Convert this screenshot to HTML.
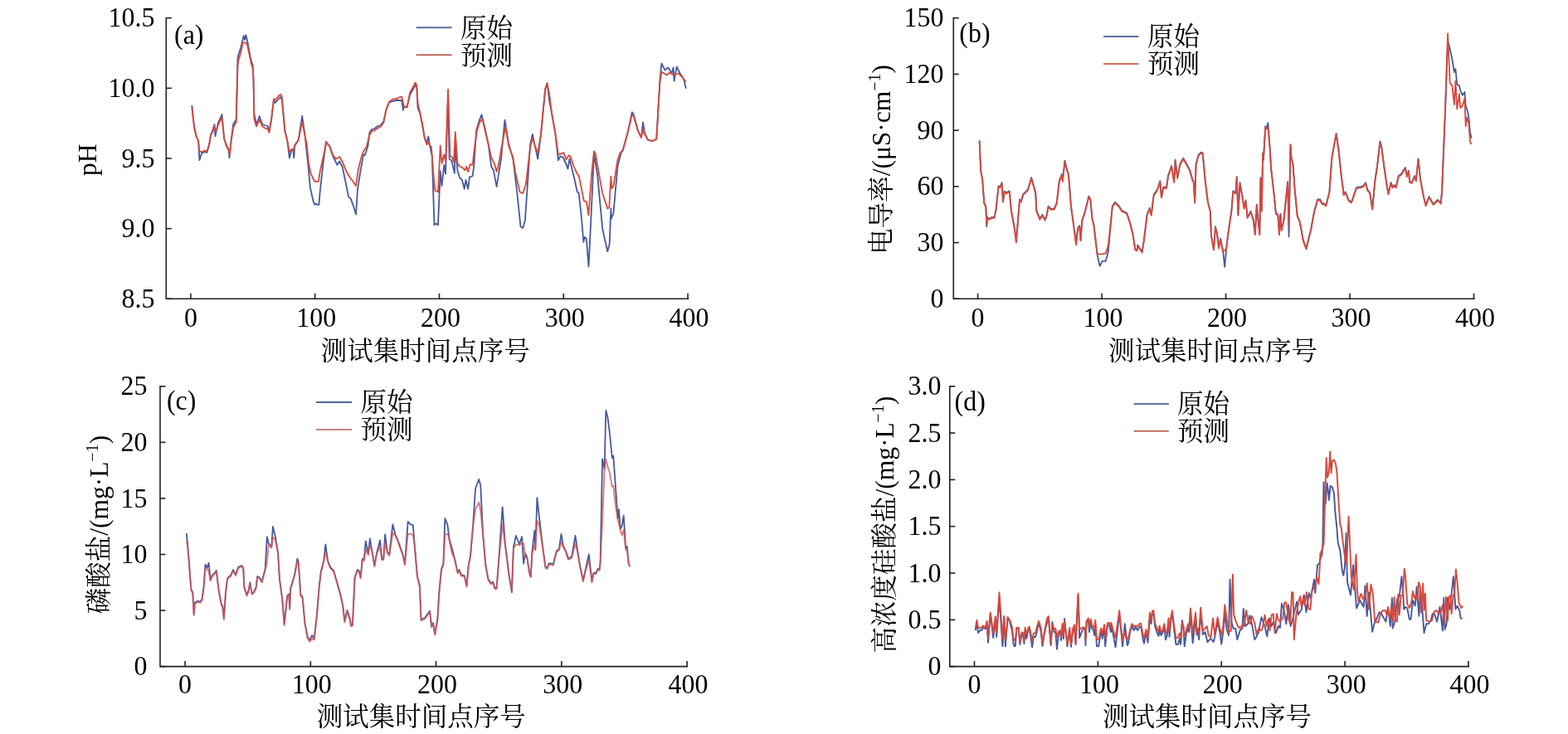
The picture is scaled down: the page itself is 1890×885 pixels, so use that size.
<!DOCTYPE html>
<html><head><meta charset="utf-8"><title>figure</title>
<style>html,body{margin:0;padding:0;background:#fff;}body{width:1890px;height:885px;overflow:hidden;}svg{display:block;}</style>
</head><body>
<svg width="1890" height="885" viewBox="0 0 1890 885">
<rect width="1890" height="885" fill="#fff"/>
<path d="M200.3,21.7 L200.3,360.3 L829.5,360.3" fill="none" stroke="#231f20" stroke-width="1.6" stroke-linecap="square"/>
<line x1="200.3" y1="21.70" x2="206.8" y2="21.70" stroke="#231f20" stroke-width="1.6"/>
<line x1="200.3" y1="106.35" x2="206.8" y2="106.35" stroke="#231f20" stroke-width="1.6"/>
<line x1="200.3" y1="191.00" x2="206.8" y2="191.00" stroke="#231f20" stroke-width="1.6"/>
<line x1="200.3" y1="275.65" x2="206.8" y2="275.65" stroke="#231f20" stroke-width="1.6"/>
<line x1="200.3" y1="360.30" x2="206.8" y2="360.30" stroke="#231f20" stroke-width="1.6"/>
<line x1="229.90" y1="360.3" x2="229.90" y2="353.8" stroke="#231f20" stroke-width="1.6"/>
<line x1="379.70" y1="360.3" x2="379.70" y2="353.8" stroke="#231f20" stroke-width="1.6"/>
<line x1="529.50" y1="360.3" x2="529.50" y2="353.8" stroke="#231f20" stroke-width="1.6"/>
<line x1="679.30" y1="360.3" x2="679.30" y2="353.8" stroke="#231f20" stroke-width="1.6"/>
<line x1="829.10" y1="360.3" x2="829.10" y2="353.8" stroke="#231f20" stroke-width="1.6"/>
<text transform="translate(186.5,32.30) scale(1,1.06)" text-anchor="end" font-family="'Liberation Serif', serif" font-size="32" fill="#000">10.5</text>
<text transform="translate(186.5,116.95) scale(1,1.06)" text-anchor="end" font-family="'Liberation Serif', serif" font-size="32" fill="#000">10.0</text>
<text transform="translate(186.5,201.60) scale(1,1.06)" text-anchor="end" font-family="'Liberation Serif', serif" font-size="32" fill="#000">9.5</text>
<text transform="translate(186.5,286.25) scale(1,1.06)" text-anchor="end" font-family="'Liberation Serif', serif" font-size="32" fill="#000">9.0</text>
<text transform="translate(186.5,370.90) scale(1,1.06)" text-anchor="end" font-family="'Liberation Serif', serif" font-size="32" fill="#000">8.5</text>
<text transform="translate(229.90,393.5) scale(1,1.06)" text-anchor="middle" font-family="'Liberation Serif', serif" font-size="32" fill="#000">0</text>
<text transform="translate(381.20,393.5) scale(1,1.06)" text-anchor="middle" font-family="'Liberation Serif', serif" font-size="32" fill="#000">100</text>
<text transform="translate(531.00,393.5) scale(1,1.06)" text-anchor="middle" font-family="'Liberation Serif', serif" font-size="32" fill="#000">200</text>
<text transform="translate(680.80,393.5) scale(1,1.06)" text-anchor="middle" font-family="'Liberation Serif', serif" font-size="32" fill="#000">300</text>
<text transform="translate(830.60,393.5) scale(1,1.06)" text-anchor="middle" font-family="'Liberation Serif', serif" font-size="32" fill="#000">400</text>
<path d="M1149.3,21.7 L1149.3,360.3 L1776.8,360.3" fill="none" stroke="#231f20" stroke-width="1.6" stroke-linecap="square"/>
<line x1="1149.3" y1="21.70" x2="1155.8" y2="21.70" stroke="#231f20" stroke-width="1.6"/>
<line x1="1149.3" y1="89.42" x2="1155.8" y2="89.42" stroke="#231f20" stroke-width="1.6"/>
<line x1="1149.3" y1="157.14" x2="1155.8" y2="157.14" stroke="#231f20" stroke-width="1.6"/>
<line x1="1149.3" y1="224.86" x2="1155.8" y2="224.86" stroke="#231f20" stroke-width="1.6"/>
<line x1="1149.3" y1="292.58" x2="1155.8" y2="292.58" stroke="#231f20" stroke-width="1.6"/>
<line x1="1149.3" y1="360.30" x2="1155.8" y2="360.30" stroke="#231f20" stroke-width="1.6"/>
<line x1="1178.60" y1="360.3" x2="1178.60" y2="353.8" stroke="#231f20" stroke-width="1.6"/>
<line x1="1328.07" y1="360.3" x2="1328.07" y2="353.8" stroke="#231f20" stroke-width="1.6"/>
<line x1="1477.55" y1="360.3" x2="1477.55" y2="353.8" stroke="#231f20" stroke-width="1.6"/>
<line x1="1627.03" y1="360.3" x2="1627.03" y2="353.8" stroke="#231f20" stroke-width="1.6"/>
<line x1="1776.50" y1="360.3" x2="1776.50" y2="353.8" stroke="#231f20" stroke-width="1.6"/>
<text transform="translate(1137.5,32.30) scale(1,1.06)" text-anchor="end" font-family="'Liberation Serif', serif" font-size="32" fill="#000">150</text>
<text transform="translate(1137.5,100.02) scale(1,1.06)" text-anchor="end" font-family="'Liberation Serif', serif" font-size="32" fill="#000">120</text>
<text transform="translate(1137.5,167.74) scale(1,1.06)" text-anchor="end" font-family="'Liberation Serif', serif" font-size="32" fill="#000">90</text>
<text transform="translate(1137.5,235.46) scale(1,1.06)" text-anchor="end" font-family="'Liberation Serif', serif" font-size="32" fill="#000">60</text>
<text transform="translate(1137.5,303.18) scale(1,1.06)" text-anchor="end" font-family="'Liberation Serif', serif" font-size="32" fill="#000">30</text>
<text transform="translate(1137.5,370.90) scale(1,1.06)" text-anchor="end" font-family="'Liberation Serif', serif" font-size="32" fill="#000">0</text>
<text transform="translate(1178.60,393.5) scale(1,1.06)" text-anchor="middle" font-family="'Liberation Serif', serif" font-size="32" fill="#000">0</text>
<text transform="translate(1329.57,393.5) scale(1,1.06)" text-anchor="middle" font-family="'Liberation Serif', serif" font-size="32" fill="#000">100</text>
<text transform="translate(1479.05,393.5) scale(1,1.06)" text-anchor="middle" font-family="'Liberation Serif', serif" font-size="32" fill="#000">200</text>
<text transform="translate(1628.53,393.5) scale(1,1.06)" text-anchor="middle" font-family="'Liberation Serif', serif" font-size="32" fill="#000">300</text>
<text transform="translate(1778.00,393.5) scale(1,1.06)" text-anchor="middle" font-family="'Liberation Serif', serif" font-size="32" fill="#000">400</text>
<path d="M193.0,465.8 L193.0,803.6 L828.4,803.6" fill="none" stroke="#231f20" stroke-width="1.6" stroke-linecap="square"/>
<line x1="193.0" y1="465.80" x2="199.5" y2="465.80" stroke="#231f20" stroke-width="1.6"/>
<line x1="193.0" y1="533.36" x2="199.5" y2="533.36" stroke="#231f20" stroke-width="1.6"/>
<line x1="193.0" y1="600.92" x2="199.5" y2="600.92" stroke="#231f20" stroke-width="1.6"/>
<line x1="193.0" y1="668.48" x2="199.5" y2="668.48" stroke="#231f20" stroke-width="1.6"/>
<line x1="193.0" y1="736.04" x2="199.5" y2="736.04" stroke="#231f20" stroke-width="1.6"/>
<line x1="193.0" y1="803.60" x2="199.5" y2="803.60" stroke="#231f20" stroke-width="1.6"/>
<line x1="223.10" y1="803.6" x2="223.10" y2="797.1" stroke="#231f20" stroke-width="1.6"/>
<line x1="374.35" y1="803.6" x2="374.35" y2="797.1" stroke="#231f20" stroke-width="1.6"/>
<line x1="525.60" y1="803.6" x2="525.60" y2="797.1" stroke="#231f20" stroke-width="1.6"/>
<line x1="676.85" y1="803.6" x2="676.85" y2="797.1" stroke="#231f20" stroke-width="1.6"/>
<line x1="828.10" y1="803.6" x2="828.10" y2="797.1" stroke="#231f20" stroke-width="1.6"/>
<text transform="translate(177.5,476.40) scale(1,1.06)" text-anchor="end" font-family="'Liberation Serif', serif" font-size="32" fill="#000">25</text>
<text transform="translate(177.5,543.96) scale(1,1.06)" text-anchor="end" font-family="'Liberation Serif', serif" font-size="32" fill="#000">20</text>
<text transform="translate(177.5,611.52) scale(1,1.06)" text-anchor="end" font-family="'Liberation Serif', serif" font-size="32" fill="#000">15</text>
<text transform="translate(177.5,679.08) scale(1,1.06)" text-anchor="end" font-family="'Liberation Serif', serif" font-size="32" fill="#000">10</text>
<text transform="translate(177.5,746.64) scale(1,1.06)" text-anchor="end" font-family="'Liberation Serif', serif" font-size="32" fill="#000">5</text>
<text transform="translate(177.5,814.20) scale(1,1.06)" text-anchor="end" font-family="'Liberation Serif', serif" font-size="32" fill="#000">0</text>
<text transform="translate(223.10,836.3) scale(1,1.06)" text-anchor="middle" font-family="'Liberation Serif', serif" font-size="32" fill="#000">0</text>
<text transform="translate(375.85,836.3) scale(1,1.06)" text-anchor="middle" font-family="'Liberation Serif', serif" font-size="32" fill="#000">100</text>
<text transform="translate(527.10,836.3) scale(1,1.06)" text-anchor="middle" font-family="'Liberation Serif', serif" font-size="32" fill="#000">200</text>
<text transform="translate(678.35,836.3) scale(1,1.06)" text-anchor="middle" font-family="'Liberation Serif', serif" font-size="32" fill="#000">300</text>
<text transform="translate(829.60,836.3) scale(1,1.06)" text-anchor="middle" font-family="'Liberation Serif', serif" font-size="32" fill="#000">400</text>
<path d="M1144.8,465.8 L1144.8,803.6 L1770.3,803.6" fill="none" stroke="#231f20" stroke-width="1.6" stroke-linecap="square"/>
<line x1="1144.8" y1="465.80" x2="1151.3" y2="465.80" stroke="#231f20" stroke-width="1.6"/>
<line x1="1144.8" y1="522.10" x2="1151.3" y2="522.10" stroke="#231f20" stroke-width="1.6"/>
<line x1="1144.8" y1="578.40" x2="1151.3" y2="578.40" stroke="#231f20" stroke-width="1.6"/>
<line x1="1144.8" y1="634.70" x2="1151.3" y2="634.70" stroke="#231f20" stroke-width="1.6"/>
<line x1="1144.8" y1="691.00" x2="1151.3" y2="691.00" stroke="#231f20" stroke-width="1.6"/>
<line x1="1144.8" y1="747.30" x2="1151.3" y2="747.30" stroke="#231f20" stroke-width="1.6"/>
<line x1="1144.8" y1="803.60" x2="1151.3" y2="803.60" stroke="#231f20" stroke-width="1.6"/>
<line x1="1174.50" y1="803.6" x2="1174.50" y2="797.1" stroke="#231f20" stroke-width="1.6"/>
<line x1="1323.38" y1="803.6" x2="1323.38" y2="797.1" stroke="#231f20" stroke-width="1.6"/>
<line x1="1472.25" y1="803.6" x2="1472.25" y2="797.1" stroke="#231f20" stroke-width="1.6"/>
<line x1="1621.12" y1="803.6" x2="1621.12" y2="797.1" stroke="#231f20" stroke-width="1.6"/>
<line x1="1770.00" y1="803.6" x2="1770.00" y2="797.1" stroke="#231f20" stroke-width="1.6"/>
<text transform="translate(1134.5,476.40) scale(1,1.06)" text-anchor="end" font-family="'Liberation Serif', serif" font-size="32" fill="#000">3.0</text>
<text transform="translate(1134.5,532.70) scale(1,1.06)" text-anchor="end" font-family="'Liberation Serif', serif" font-size="32" fill="#000">2.5</text>
<text transform="translate(1134.5,589.00) scale(1,1.06)" text-anchor="end" font-family="'Liberation Serif', serif" font-size="32" fill="#000">2.0</text>
<text transform="translate(1134.5,645.30) scale(1,1.06)" text-anchor="end" font-family="'Liberation Serif', serif" font-size="32" fill="#000">1.5</text>
<text transform="translate(1134.5,701.60) scale(1,1.06)" text-anchor="end" font-family="'Liberation Serif', serif" font-size="32" fill="#000">1.0</text>
<text transform="translate(1134.5,757.90) scale(1,1.06)" text-anchor="end" font-family="'Liberation Serif', serif" font-size="32" fill="#000">0.5</text>
<text transform="translate(1134.5,814.20) scale(1,1.06)" text-anchor="end" font-family="'Liberation Serif', serif" font-size="32" fill="#000">0</text>
<text transform="translate(1174.50,836.3) scale(1,1.06)" text-anchor="middle" font-family="'Liberation Serif', serif" font-size="32" fill="#000">0</text>
<text transform="translate(1324.88,836.3) scale(1,1.06)" text-anchor="middle" font-family="'Liberation Serif', serif" font-size="32" fill="#000">100</text>
<text transform="translate(1473.75,836.3) scale(1,1.06)" text-anchor="middle" font-family="'Liberation Serif', serif" font-size="32" fill="#000">200</text>
<text transform="translate(1622.62,836.3) scale(1,1.06)" text-anchor="middle" font-family="'Liberation Serif', serif" font-size="32" fill="#000">300</text>
<text transform="translate(1771.50,836.3) scale(1,1.06)" text-anchor="middle" font-family="'Liberation Serif', serif" font-size="32" fill="#000">400</text>
<polyline points="231.3,127.0 234.0,152.5 236.8,165.2 239.1,169.7 240.4,193.2 243.1,185.0 246.7,183.0 249.4,184.0 252.1,175.0 253.9,163.4 256.6,156.0 258.5,150.0 259.4,164.3 263.0,148.0 267.5,138.0 270.2,167.0 272.9,176.0 275.6,181.0 276.5,190.5 278.3,172.4 281.1,150.0 284.7,144.0 286.5,70.0 287.4,66.0 290.1,58.0 293.7,43.1 295.0,48.0 296.4,42.2 298.2,50.0 300.9,64.0 302.8,74.0 303.7,75.7 304.6,78.0 305.5,94.7 306.4,138.0 309.1,150.0 312.7,140.0 316.3,150.0 319.0,151.0 322.6,152.0 324.5,158.0 327.2,143.5 329.9,121.0 331.7,124.0 335.3,120.0 338.0,117.0 339.8,120.0 343.4,158.0 346.2,168.8 348.9,190.5 351.6,180.0 353.4,182.0 354.3,190.5 355.2,176.0 359.7,168.8 364.2,139.9 367.9,165.2 368.5,171.8 372.1,206.2 373.9,226.1 377.5,242.3 379.4,246.9 381.2,245.6 383.0,246.9 384.4,246.9 385.7,231.5 389.3,198.9 392.9,170.9 397.4,176.3 401.1,188.1 406.5,198.9 409.2,194.4 412.8,201.6 416.4,218.8 420.0,236.9 422.8,239.6 426.4,249.6 429.1,258.6 430.9,229.7 434.5,206.2 438.1,186.3 439.9,187.2 443.6,175.4 445.4,160.0 448.1,156.0 451.7,155.0 455.3,152.0 458.9,151.0 462.5,146.0 465.3,132.9 468.9,124.0 473.4,122.0 477.9,121.0 480.6,121.0 484.2,121.0 486.0,132.9 487.0,128.4 490.6,129.3 494.2,114.0 497.8,108.0 500.5,103.0 502.3,105.0 503.6,130.2 506.3,137.0 509.0,150.0 511.8,166.4 514.5,172.0 516.3,164.6 518.1,175.4 520.8,188.1 523.5,271.3 525.3,269.5 528.0,271.3 530.7,206.2 532.5,224.2 535.3,198.9 537.1,209.8 540.1,115.0 541.6,191.7 544.3,193.5 547.9,208.9 548.8,175.0 551.5,206.2 554.2,214.3 557.0,217.0 559.7,227.9 561.5,217.0 564.2,227.9 566.0,213.4 569.6,212.5 571.4,198.9 574.1,157.3 577.8,145.0 580.5,138.3 585.0,157.0 588.6,173.6 592.2,200.7 594.9,205.3 598.6,225.2 604.0,191.7 608.5,144.7 613.0,173.0 618.4,191.7 623.0,229.7 627.5,273.1 630.2,274.9 632.9,265.8 639.2,173.6 641.9,161.9 644.7,175.4 648.3,191.7 651.9,162.8 657.3,106.7 659.5,100.0 662.1,121.0 665.2,137.3 669.2,159.7 672.9,193.4 675.3,188.3 678.4,189.3 682.5,198.0 684.5,203.6 686.5,191.4 692.6,216.8 695.7,231.0 697.7,233.0 700.8,261.5 703.4,292.0 704.8,285.9 706.9,288.0 709.5,321.5 712.0,271.7 716.0,185.3 720.1,210.7 726.2,275.8 732.3,303.2 734.7,294.1 736.4,251.4 736.8,263.6 739.4,257.5 744.5,200.5 748.6,184.2 750.6,182.0 756.7,159.7 761.8,135.3 763.8,138.0 768.9,157.6 773.0,165.8 775.0,147.5 777.0,160.0 781.1,168.8 786.2,169.8 789.2,168.8 791.3,167.8 795.3,98.0 797.4,76.3 801.4,84.4 805.5,81.4 809.6,88.5 811.6,81.4 812.6,97.6 815.7,80.3 819.7,88.5 823.8,94.6 826.9,106.8" fill="none" stroke="#45599c" stroke-width="1.8" stroke-linejoin="round"/>
<polyline points="231.3,129.9 234.0,152.5 236.8,165.2 239.1,169.7 240.4,182.4 243.1,183.3 246.7,181.5 249.4,182.4 252.1,174.2 253.9,163.4 256.6,158.0 258.5,152.5 260.3,158.0 263.0,150.7 267.5,141.7 270.2,167.0 272.9,175.1 275.6,179.7 276.9,186.9 278.3,172.4 281.1,154.3 284.7,147.1 286.5,80.2 287.4,73.0 290.1,63.9 292.8,51.3 296.4,51.3 298.2,54.9 300.9,67.5 302.8,76.6 304.6,82.0 305.5,94.7 306.4,143.5 309.1,152.5 312.7,144.4 316.3,152.5 319.0,154.3 322.6,155.3 324.5,159.8 327.2,143.5 329.9,119.1 331.7,120.9 335.3,116.4 338.0,113.7 339.8,116.4 343.4,158.0 346.2,168.8 348.9,183.3 351.6,179.7 353.4,181.5 355.2,175.1 359.7,168.8 364.2,147.1 367.9,165.2 369.7,173.3 372.1,197.1 374.8,209.8 379.4,218.8 383.9,218.8 385.7,207.1 393.5,171.8 397.4,176.3 401.1,186.3 404.7,191.7 409.2,189.0 412.8,195.3 417.3,206.2 421.9,214.3 425.5,218.8 429.1,224.2 431.8,204.4 435.4,189.9 438.1,182.6 441.7,177.2 445.4,162.8 448.1,158.2 451.7,157.3 455.3,154.6 458.9,152.8 462.5,147.4 465.3,132.9 468.9,123.0 473.4,119.4 477.9,119.4 480.6,117.5 484.2,116.6 487.0,128.4 490.6,129.3 494.2,111.2 497.8,104.9 500.5,99.5 502.3,103.1 503.6,124.8 506.3,135.6 509.0,149.2 511.8,166.4 514.5,174.5 516.3,171.8 518.1,175.4 519.9,177.2 522.6,211.6 524.4,229.7 528.0,231.5 530.7,175.4 532.5,197.1 535.3,186.3 537.1,195.3 540.1,107.6 542.5,188.1 545.2,189.9 547.0,195.3 548.8,159.1 551.5,197.1 554.2,200.7 557.9,202.5 560.6,205.3 562.4,200.7 564.2,207.1 566.9,198.0 569.6,198.9 572.3,175.4 575.0,157.3 577.8,148.3 581.4,142.9 585.0,159.1 588.6,173.6 592.2,189.9 595.8,197.1 598.6,207.1 601.3,197.1 604.9,175.4 609.4,152.8 613.0,175.4 618.4,189.9 621.2,208.0 626.6,231.5 630.2,233.3 633.8,222.4 639.2,177.2 641.9,166.4 644.7,175.4 648.3,184.5 651.9,162.8 657.3,106.7 659.5,100.7 662.1,112.9 665.2,137.3 669.2,159.7 672.9,186.3 676.4,185.3 679.4,184.2 682.5,192.4 685.5,187.3 687.5,188.3 691.6,200.5 695.7,209.7 697.7,211.7 700.8,226.9 703.8,242.2 706.9,243.2 709.5,259.5 713.0,210.7 716.0,182.2 718.0,186.3 721.1,204.6 726.2,233.0 732.3,251.4 734.3,250.3 736.4,212.7 737.4,226.9 739.4,224.9 744.5,192.4 747.5,184.2 750.6,181.2 756.7,159.7 761.8,138.3 763.8,140.3 768.9,157.6 773.0,165.8 775.0,155.6 777.0,161.7 781.1,168.8 786.2,169.8 789.2,168.8 791.3,167.8 795.3,100.7 797.4,86.4 803.5,90.5 807.5,87.5 811.6,90.5 817.7,88.5 821.8,92.5 826.9,98.6" fill="none" stroke="#d8483a" stroke-width="1.8" stroke-linejoin="round"/>
<polyline points="1180.6,169.3 1182.2,205.9 1184.2,216.1 1186.3,244.6 1188.3,248.7 1189.3,273.1 1190.3,261.9 1192.4,263.9 1195.4,261.9 1198.5,261.9 1200.5,252.7 1203.6,224.2 1205.6,225.3 1207.6,220.2 1209.0,242.6 1210.7,230.4 1212.7,232.4 1214.7,231.4 1216.8,230.4 1218.8,252.7 1222.9,275.1 1224.9,291.4 1229.0,240.5 1231.0,242.6 1233.0,234.4 1235.1,232.4 1237.1,230.4 1239.1,228.3 1243.2,214.1 1248.3,232.4 1249.3,253.7 1253.4,263.9 1256.4,258.8 1259.5,264.9 1261.5,259.8 1263.6,248.7 1266.6,251.7 1270.7,251.7 1273.7,244.6 1276.8,218.1 1279.8,210.0 1280.8,218.1 1283.5,193.7 1285.9,203.9 1288.0,210.0 1291.0,248.7 1294.1,271.0 1297.1,294.4 1299.1,275.1 1301.2,272.0 1302.6,289.3 1304.2,265.9 1307.3,256.8 1312.4,236.5 1314.4,240.5 1316.4,262.9 1318.5,271.0 1322.5,306.6 1325.6,320.9 1328.6,314.8 1332.7,314.8 1335.8,303.6 1340.8,248.7 1343.9,243.6 1349.1,248.7 1352.1,253.7 1358.2,256.8 1362.3,269.0 1365.3,281.2 1368.4,300.5 1370.4,301.5 1371.4,295.4 1374.5,300.5 1376.5,303.6 1378.6,291.4 1382.6,258.8 1385.7,250.7 1387.7,258.8 1390.8,234.4 1393.8,230.4 1395.8,226.3 1398.3,218.1 1399.9,237.5 1402.4,225.3 1406.0,226.3 1408.0,212.0 1412.1,199.8 1415.2,219.2 1416.6,192.7 1419.2,214.1 1422.3,197.8 1426.3,190.7 1430.4,197.8 1434.5,205.9 1437.5,217.1 1438.6,218.1 1440.2,243.6 1441.6,197.8 1444.7,186.6 1447.7,183.6 1449.7,184.6 1452.8,218.1 1455.8,242.6 1458.9,254.8 1459.9,283.2 1463.0,300.5 1465.0,273.1 1467.0,281.2 1469.1,298.5 1471.1,287.3 1474.1,302.5 1476.2,321.9 1478.2,299.5 1480.2,282.2 1484.3,254.8 1486.3,230.4 1489.4,232.4 1490.8,213.1 1492.4,258.8 1494.5,220.2 1497.5,236.5 1499.6,250.7 1501.6,241.5 1503.6,261.9 1507.7,254.8 1510.8,264.9 1512.8,282.2 1514.8,246.6 1516.9,269.0 1518.3,282.2 1519.5,214.1 1520.9,253.7 1522.1,184.5 1522.9,192.4 1525.3,152.1 1526.9,154.4 1528.4,148.1 1530.8,179.8 1532.2,203.9 1535.3,230.4 1537.9,256.8 1540.3,258.8 1542.0,282.2 1543.4,257.8 1544.8,277.1 1547.5,264.9 1549.5,244.6 1552.1,219.2 1553.6,285.3 1555.5,174.2 1556.5,189.3 1558.6,198.8 1560.7,228.3 1563.7,259.8 1566.8,267.0 1570.8,289.3 1574.5,299.5 1576.9,289.3 1580.0,277.1 1584.1,254.8 1588.1,240.5 1591.2,240.5 1593.2,244.6 1596.3,245.6 1598.3,247.6 1602.4,231.4 1605.4,189.7 1610.6,161.0 1613.6,181.5 1616.6,210.0 1619.7,234.4 1621.7,231.4 1625.8,241.5 1628.8,243.6 1630.8,238.5 1634.9,226.3 1638.0,225.3 1640.0,225.3 1643.0,224.2 1646.1,220.2 1648.1,228.3 1651.2,232.4 1654.2,251.7 1657.3,218.1 1660.3,197.8 1663.4,170.4 1665.4,177.5 1668.5,201.9 1671.5,222.2 1673.5,233.4 1676.6,220.2 1678.6,225.3 1680.7,223.2 1682.7,225.3 1685.8,212.0 1688.8,210.0 1691.9,204.9 1693.9,201.9 1695.9,212.0 1698.0,205.9 1699.1,218.7 1701.7,220.0 1705.1,212.2 1706.9,217.4 1709.5,191.4 1712.1,216.1 1716.0,236.9 1718.6,247.3 1722.5,236.9 1727.7,246.0 1732.9,240.8 1736.8,244.7 1738.1,229.1 1742.0,133.0 1745.1,49.8 1747.7,59.0 1750.3,71.0 1752.9,87.0 1754.4,83.0 1756.3,101.8 1758.9,103.1 1760.2,109.0 1762.8,114.8 1765.4,111.0 1766.7,127.8 1768.0,131.0 1769.3,135.5 1770.6,144.0 1771.9,159.0 1773.7,166.7" fill="none" stroke="#45599c" stroke-width="1.8" stroke-linejoin="round"/>
<polyline points="1180.6,170.3 1182.2,206.9 1184.2,217.1 1186.3,245.6 1188.3,249.7 1189.3,270.0 1190.3,262.9 1192.4,264.9 1195.4,262.9 1198.5,262.9 1200.5,253.7 1203.6,225.2 1205.6,226.3 1207.6,221.2 1209.0,243.6 1210.7,231.4 1212.7,233.4 1214.7,232.4 1216.8,231.4 1218.8,253.7 1222.9,276.1 1224.9,292.4 1229.0,241.5 1231.0,243.6 1233.0,235.4 1235.1,233.4 1237.1,231.4 1239.1,229.3 1243.2,215.1 1248.3,233.4 1249.3,254.7 1253.4,264.9 1256.4,259.8 1259.5,265.9 1261.5,260.8 1263.6,249.7 1266.6,252.7 1270.7,252.7 1273.7,245.6 1276.8,219.1 1279.8,211.0 1280.8,219.1 1283.5,194.7 1285.9,204.9 1288.0,211.0 1291.0,249.7 1294.1,272.0 1297.1,295.4 1299.1,276.1 1301.2,273.0 1302.6,290.3 1304.2,266.9 1307.3,257.8 1312.4,237.5 1314.4,241.5 1316.4,263.9 1318.5,272.0 1322.5,305.6 1325.6,306.6 1332.7,305.6 1335.8,296.4 1340.8,249.7 1343.9,244.6 1349.1,249.7 1352.1,254.7 1358.2,257.8 1362.3,270.0 1365.3,282.2 1368.4,301.5 1370.4,302.5 1371.4,296.4 1374.5,301.5 1376.5,304.6 1378.6,292.4 1382.6,259.8 1385.7,251.7 1387.7,259.8 1390.8,235.4 1393.8,231.4 1395.8,227.3 1398.3,219.1 1399.9,238.5 1402.4,226.3 1406.0,227.3 1408.0,213.0 1412.1,200.8 1415.2,220.2 1416.6,193.7 1419.2,215.1 1422.3,198.8 1426.3,191.7 1430.4,198.8 1434.5,206.9 1437.5,218.1 1438.6,219.1 1440.2,244.6 1441.6,198.8 1444.7,187.6 1447.7,184.6 1449.7,185.6 1452.8,219.1 1455.8,243.6 1458.9,255.8 1459.9,284.2 1463.0,301.5 1465.0,274.1 1467.0,282.2 1469.1,299.5 1471.1,288.3 1474.1,303.5 1476.2,301.5 1478.2,300.5 1480.2,283.2 1484.3,255.8 1486.3,231.4 1489.4,233.4 1490.8,214.1 1492.4,259.8 1494.5,221.2 1497.5,237.5 1499.6,251.7 1501.6,242.5 1503.6,262.9 1507.7,255.8 1510.8,265.9 1512.8,283.2 1514.8,247.6 1516.9,270.0 1518.3,283.2 1519.5,215.1 1520.9,254.7 1522.1,185.5 1522.9,193.4 1525.3,153.1 1526.9,155.4 1528.4,153.9 1530.8,180.8 1532.2,204.9 1535.3,231.4 1537.9,257.8 1540.3,259.8 1542.0,283.2 1543.4,258.8 1544.8,278.1 1547.5,265.9 1549.5,245.6 1552.1,220.2 1553.6,272.0 1555.5,175.2 1556.5,190.3 1558.6,199.8 1560.7,229.3 1563.7,260.8 1566.8,268.0 1570.8,290.3 1574.5,300.5 1576.9,290.3 1580.0,278.1 1584.1,255.8 1588.1,241.5 1591.2,241.5 1593.2,245.6 1596.3,246.6 1598.3,248.6 1602.4,232.4 1605.4,190.7 1610.6,162.0 1613.6,182.5 1616.6,211.0 1619.7,235.4 1621.7,232.4 1625.8,242.5 1628.8,244.6 1630.8,239.5 1634.9,227.3 1638.0,226.3 1640.0,226.3 1643.0,225.2 1646.1,221.2 1648.1,229.3 1651.2,233.4 1654.2,252.7 1657.3,219.1 1660.3,198.8 1663.4,171.4 1665.4,178.5 1668.5,202.9 1671.5,223.2 1673.5,234.4 1676.6,221.2 1678.6,226.3 1680.7,224.2 1682.7,226.3 1685.8,213.0 1688.8,211.0 1691.9,205.9 1693.9,202.9 1695.9,213.0 1698.0,206.9 1699.1,219.7 1701.7,221.0 1705.1,213.2 1706.9,218.4 1709.5,192.4 1712.1,217.1 1716.0,237.9 1718.6,248.3 1722.5,237.9 1727.7,247.0 1732.9,241.8 1736.8,245.7 1738.1,230.1 1742.0,134.0 1745.1,40.4 1747.7,100.2 1750.3,102.8 1752.9,126.2 1754.4,97.6 1756.3,131.4 1758.9,113.2 1760.2,130.0 1762.8,127.5 1765.4,118.4 1766.7,152.1 1768.0,141.7 1770.6,149.5 1771.9,170.3 1773.7,174.2" fill="none" stroke="#d8483a" stroke-width="1.8" stroke-linejoin="round"/>
<polyline points="224.8,643.1 226.2,657.3 228.2,681.7 230.3,710.2 232.3,714.3 233.7,740.7 234.9,726.5 238.4,724.5 241.4,725.5 243.5,722.4 245.5,708.2 247.5,680.7 249.6,684.8 251.6,678.7 253.6,699.0 255.7,693.9 258.7,690.9 260.8,687.8 263.8,712.3 266.9,728.5 268.3,730.6 269.9,745.8 272.0,714.3 274.0,698.0 276.0,695.0 278.0,693.9 281.1,686.8 284.1,692.9 287.2,683.8 291.3,681.7 293.3,684.8 294.3,707.2 297.4,717.3 299.4,712.3 301.4,702.1 303.5,715.3 305.5,714.3 308.6,708.2 310.2,695.0 312.6,696.0 315.7,701.1 319.7,685.8 321.8,647.2 323.8,655.3 325.8,657.3 327.3,659.4 328.9,635.0 331.9,647.2 335.0,665.5 337.0,698.0 340.1,720.4 342.7,752.9 346.2,718.4 348.2,716.3 349.2,733.6 350.2,709.2 353.3,699.0 355.3,691.9 358.4,673.6 359.8,677.7 362.4,717.3 364.5,719.4 367.5,750.9 370.6,767.2 373.2,772.2 376.1,766.1 378.7,770.2 381.8,742.8 384.8,706.2 386.9,688.9 390.3,675.7 392.4,656.3 395.1,675.8 398.1,683.9 402.2,688.0 406.3,702.3 410.3,716.5 413.4,730.7 415.4,749.0 418.5,735.8 421.5,745.0 423.2,754.1 425.0,753.1 427.6,696.2 430.7,687.0 432.7,688.0 434.7,696.2 436.8,673.8 438.8,674.8 440.8,652.4 443.9,667.7 445.9,649.4 448.0,661.6 451.4,681.9 454.1,666.7 458.1,651.4 460.2,673.8 462.2,673.8 464.2,644.3 466.9,665.6 469.3,668.7 473.4,632.1 476.4,644.3 479.5,651.4 485.6,668.7 488.0,679.9 491.7,629.0 494.7,632.1 497.8,633.1 499.8,657.5 502.9,694.1 505.9,706.3 507.6,747.0 512.0,745.0 518.1,736.8 520.2,755.1 522.2,751.1 524.2,764.3 527.3,747.0 529.3,714.5 532.0,686.0 534.4,679.9 536.4,625.0 539.5,633.1 541.5,649.4 544.6,660.6 547.6,671.7 551.7,690.1 553.7,687.0 555.8,693.1 559.8,694.1 562.5,706.3 564.9,679.9 567.0,670.4 570.1,633.8 573.1,589.0 577.2,577.9 579.2,585.0 582.3,646.0 585.3,680.6 588.4,697.8 591.4,702.9 594.5,701.9 596.5,709.0 598.6,709.0 601.6,670.4 605.7,611.4 608.7,654.1 613.8,694.8 616.9,714.1 618.9,660.2 621.9,646.0 626.0,656.2 629.1,647.0 631.1,679.5 633.1,667.3 635.2,671.4 638.2,690.7 639.8,694.8 641.3,666.3 644.3,639.9 645.3,662.3 647.4,600.2 649.4,618.5 653.5,654.1 657.5,683.6 659.6,684.6 661.6,679.5 664.7,679.5 666.7,680.6 670.8,664.3 673.8,662.3 676.5,644.0 678.9,658.2 682.0,664.3 685.0,673.4 689.1,671.4 693.5,646.0 696.2,664.3 699.2,682.6 702.9,699.9 705.3,688.7 709.8,668.4 713.5,700.9 715.5,690.7 718.5,690.7 720.6,685.6 722.6,686.7 723.6,677.6 726.1,553.3 728.6,565.7 730.3,494.9 732.3,502.3 734.8,521.0 737.8,552.0 739.3,549.5 742.3,591.8 744.7,625.4 746.0,614.2 747.7,637.8 749.7,634.1 751.7,621.6 754.2,660.2 755.9,658.9 757.7,680.0 759.2,682.5" fill="none" stroke="#45599c" stroke-width="1.8" stroke-linejoin="round"/>
<polyline points="224.8,652.5 226.2,658.6 228.2,683.0 230.3,711.5 232.3,715.6 233.7,742.0 234.9,727.8 238.4,725.8 241.4,726.8 243.5,723.7 245.5,709.5 247.5,685.1 249.6,686.1 251.6,689.1 253.6,700.3 255.7,695.2 258.7,692.2 260.8,689.1 263.8,713.6 266.9,729.8 268.3,731.9 269.9,747.1 272.0,715.6 274.0,699.3 276.0,696.3 278.0,695.2 281.1,688.1 284.1,694.2 287.2,685.1 291.3,683.0 293.3,686.1 294.3,708.5 297.4,718.6 299.4,713.6 301.4,703.4 303.5,716.6 305.5,715.6 308.6,709.5 310.2,696.3 312.6,697.3 315.7,702.4 319.7,687.1 321.8,679.0 323.8,656.6 325.8,658.6 327.3,660.7 328.9,647.5 331.9,651.5 335.0,666.8 337.0,699.3 340.1,721.7 342.7,754.2 346.2,719.7 348.2,717.6 349.2,734.9 350.2,710.5 353.3,700.3 355.3,693.2 358.4,676.9 359.8,679.0 362.4,718.6 364.5,720.7 367.5,752.2 370.6,769.5 373.2,773.5 376.1,770.5 378.7,771.5 381.8,744.1 384.8,707.5 386.9,690.2 390.3,677.0 392.4,664.9 395.1,677.1 398.1,685.2 402.2,689.3 406.3,703.6 410.3,717.8 413.4,732.0 415.4,750.3 418.5,737.1 421.5,746.3 423.2,755.4 425.0,754.4 427.6,697.5 430.7,688.3 432.7,689.3 434.7,697.5 436.8,675.1 438.8,676.1 440.8,662.9 443.9,669.0 445.9,657.8 448.0,662.9 451.4,683.2 454.1,668.0 458.1,658.8 460.2,675.1 462.2,675.1 464.2,654.7 466.9,666.9 469.3,670.0 473.4,642.5 476.4,645.6 479.5,652.7 485.6,670.0 488.0,681.2 491.7,643.6 494.7,643.6 497.8,645.6 499.8,658.8 502.9,695.4 505.9,707.6 507.6,748.3 512.0,746.3 518.1,738.1 520.2,756.4 522.2,752.4 524.2,765.6 527.3,748.3 529.3,715.8 532.0,687.3 534.4,681.2 536.4,644.6 539.5,643.6 541.5,650.7 544.6,666.9 547.6,673.0 551.7,691.4 553.7,688.3 555.8,694.4 559.8,695.4 562.5,707.6 564.9,681.2 567.0,671.7 570.1,635.1 573.1,613.7 577.2,605.6 579.2,614.7 582.3,647.3 585.3,681.9 588.4,699.1 591.4,704.2 594.5,703.2 596.5,710.3 598.6,710.3 601.6,671.7 605.7,633.0 608.7,655.4 613.8,696.1 616.9,712.4 618.9,661.5 621.9,656.4 626.0,657.5 629.1,654.4 631.1,655.4 633.1,671.7 635.2,672.7 638.2,692.0 639.8,696.1 641.3,667.6 644.3,657.5 645.3,663.6 647.4,628.0 649.4,631.0 653.5,655.4 657.5,684.9 659.6,685.9 661.6,680.8 664.7,680.8 666.7,681.9 670.8,665.6 673.8,663.6 676.5,653.4 678.9,659.5 682.0,665.6 685.0,674.7 689.1,672.7 693.5,655.4 696.2,665.6 699.2,683.9 702.9,701.2 705.3,690.0 709.8,675.8 713.5,702.2 715.5,692.0 718.5,692.0 720.6,686.9 722.6,688.0 723.6,678.9 726.1,629.1 728.6,567.0 730.3,553.3 732.3,562.0 734.8,569.5 737.8,586.9 739.3,585.6 742.3,611.7 744.7,626.7 747.7,639.1 749.7,645.3 751.7,639.1 754.2,662.7 755.9,663.9 757.7,678.9 759.2,683.8" fill="none" stroke="#d9534f" stroke-width="1.8" stroke-linejoin="round" stroke-opacity="0.8"/>
<polyline points="1175.7,760.0 1177.4,752.0 1179.1,763.0 1181.4,760.0 1183.1,760.0 1184.8,757.0 1186.5,757.5 1188.2,758.0 1189.6,752.0 1191.0,774.7 1193.8,740.0 1197.2,769.0 1199.8,748.0 1201.2,768.0 1204.5,722.0 1208.5,779.3 1210.2,743.1 1211.9,779.3 1214.7,744.2 1217.0,749.0 1219.8,760.0 1221.5,776.0 1222.6,779.3 1223.8,779.0 1225.5,757.0 1227.7,758.0 1229.4,777.0 1231.7,764.0 1233.4,768.0 1234.5,776.0 1235.6,760.0 1237.3,770.0 1239.6,758.0 1240.7,757.0 1242.4,768.0 1244.1,780.4 1245.8,768.0 1248.1,768.0 1249.7,762.0 1252.0,750.0 1254.8,762.0 1256.5,779.0 1258.8,764.0 1262.2,750.0 1263.9,746.0 1266.7,778.0 1268.4,750.0 1270.6,762.0 1272.3,762.0 1274.0,782.7 1276.3,762.0 1278.0,762.0 1279.1,772.0 1280.8,752.0 1282.0,770.0 1283.1,746.0 1286.5,779.3 1289.3,760.0 1291.0,780.0 1293.2,760.0 1295.0,757.0 1296.6,777.0 1299.5,718.0 1301.2,769.1 1304.5,760.0 1306.2,758.0 1307.9,760.0 1308.5,778.1 1309.6,750.0 1311.9,748.0 1313.0,762.0 1314.7,750.0 1316.4,758.0 1318.1,760.0 1319.2,766.0 1320.3,752.0 1322.0,779.3 1324.3,779.0 1327.1,760.0 1328.8,770.0 1331.1,756.0 1332.2,779.3 1335.0,753.0 1337.3,755.0 1339.0,762.0 1339.5,755.0 1341.2,762.0 1344.6,780.4 1349.2,740.0 1351.4,762.0 1353.1,779.3 1355.9,752.1 1358.8,778.1 1359.9,776.0 1362.1,762.0 1364.4,755.0 1366.7,760.0 1368.9,756.0 1371.2,760.0 1373.4,756.0 1375.1,755.0 1378.0,772.0 1379.1,775.9 1381.4,762.0 1383.6,774.7 1385.9,745.0 1387.6,752.0 1388.7,740.0 1390.4,740.0 1392.1,755.0 1394.4,762.0 1396.6,766.8 1397.7,758.0 1399.4,766.0 1401.7,762.0 1403.4,756.0 1405.1,771.4 1406.8,766.0 1408.5,750.0 1409.6,768.0 1411.3,748.0 1413.0,740.0 1415.3,760.0 1417.5,777.0 1419.8,777.0 1422.0,770.0 1423.2,777.0 1424.9,748.0 1426.6,758.0 1427.7,779.3 1429.9,764.0 1432.2,756.0 1433.3,762.0 1435.0,740.0 1437.7,775.3 1441.1,745.0 1442.5,765.0 1443.8,762.0 1445.2,771.2 1447.2,740.0 1449.9,765.0 1452.6,762.0 1455.4,774.0 1459.4,770.0 1462.8,774.0 1464.2,768.0 1467.6,750.0 1470.3,762.0 1472.3,776.7 1474.3,762.0 1476.4,740.0 1478.4,758.0 1481.1,766.0 1482.5,698.7 1484.5,750.0 1486.6,757.7 1489.3,758.0 1491.3,771.2 1494.7,760.0 1497.4,758.0 1498.8,733.9 1501.0,755.0 1504.2,752.0 1506.2,742.1 1508.9,752.0 1512.3,771.2 1514.4,768.0 1517.1,762.0 1520.5,744.1 1524.5,755.0 1527.3,767.2 1530.0,745.5 1532.7,755.0 1534.7,750.0 1538.1,763.1 1540.8,755.0 1542.9,757.0 1544.9,727.8 1547.5,735.0 1550.3,752.3 1553.0,729.2 1555.7,755.0 1558.5,745.0 1560.0,738.0 1563.2,725.4 1564.7,741.2 1568.7,734.9 1571.9,717.5 1574.5,738.0 1577.9,714.9 1579.9,721.7 1584.0,698.6 1585.3,714.9 1588.0,681.0 1590.1,679.7 1592.1,671.5 1593.5,668.8 1594.4,654.3 1595.5,581.1 1596.4,602.8 1597.8,606.9 1599.6,582.5 1600.9,592.0 1601.9,602.8 1603.6,585.8 1605.9,587.2 1608.0,594.7 1609.3,616.4 1611.4,636.7 1612.7,654.3 1615.3,663.7 1617.7,687.4 1619.3,693.8 1620.9,684.3 1622.6,642.8 1624.0,701.7 1628.0,717.5 1631.1,681.1 1635.1,733.3 1639.1,723.8 1643.8,731.7 1645.4,706.4 1647.7,742.8 1650.1,714.3 1654.1,761.7 1656.4,752.3 1662.8,738.0 1665.0,740.0 1670.4,749.5 1673.1,731.9 1675.8,754.9 1677.9,721.0 1678.6,757.6 1681.3,749.5 1684.0,722.4 1686.7,719.7 1689.4,695.3 1691.4,718.3 1692.1,734.6 1694.2,731.9 1696.2,733.2 1698.9,746.8 1700.5,746.8 1703.0,723.7 1705.7,730.5 1707.7,707.5 1709.1,727.8 1710.4,742.7 1711.8,710.2 1713.8,727.8 1716.5,763.1 1719.2,752.2 1722.0,752.0 1724.7,748.1 1726.7,740.0 1729.0,740.0 1732.1,749.5 1735.5,731.9 1738.9,760.3 1740.3,721.0 1741.6,759.0 1743.6,752.2 1745.0,721.0 1747.5,735.0 1751.8,695.3 1754.5,734.6 1756.5,730.5 1759.2,735.9 1760.6,745.4 1762.6,746.1" fill="none" stroke="#45599c" stroke-width="1.9" stroke-linejoin="round"/>
<polyline points="1175.7,757.8 1177.4,747.6 1179.1,756.7 1181.4,757.2 1183.1,756.7 1184.8,754.4 1186.5,755.5 1188.2,755.0 1189.6,748.8 1191.0,769.1 1193.8,738.6 1197.2,763.4 1199.8,743.1 1201.2,763.4 1204.5,714.3 1208.5,771.4 1210.2,743.1 1211.9,772.5 1214.7,744.2 1217.0,747.6 1219.8,755.5 1221.5,770.2 1223.8,772.5 1225.5,756.7 1227.7,756.7 1229.4,774.7 1231.7,762.3 1233.4,763.4 1234.5,772.5 1235.6,756.7 1237.3,764.6 1239.6,756.7 1240.7,755.5 1242.4,763.4 1244.1,773.6 1245.8,763.4 1248.1,763.4 1249.7,756.7 1252.0,748.8 1254.8,757.8 1256.5,775.9 1258.8,762.3 1262.2,745.4 1263.9,743.1 1266.7,777.0 1268.4,753.3 1270.6,758.9 1272.3,757.8 1274.0,768.0 1276.3,761.2 1278.0,760.1 1279.1,768.0 1280.8,752.1 1282.0,766.8 1283.1,748.8 1286.5,777.0 1289.3,756.7 1291.0,777.0 1293.2,757.8 1295.0,753.3 1296.6,775.9 1299.5,715.4 1301.2,758.9 1304.5,756.7 1306.2,756.1 1307.9,757.8 1308.5,771.4 1309.6,748.8 1311.9,745.4 1313.0,755.5 1314.7,746.5 1316.4,754.4 1318.1,755.5 1319.2,758.9 1320.3,747.6 1322.0,770.2 1324.3,771.4 1327.1,757.8 1328.8,763.4 1331.1,753.3 1332.8,770.2 1335.0,751.0 1337.3,751.0 1339.0,756.7 1339.5,751.0 1341.2,757.8 1344.6,769.1 1349.2,736.3 1351.4,757.8 1353.1,772.5 1355.4,761.2 1357.1,769.1 1359.9,770.2 1362.1,760.1 1364.4,752.1 1366.7,755.5 1368.9,754.4 1371.2,755.5 1373.4,752.1 1375.1,751.6 1378.0,766.8 1379.1,769.1 1381.4,758.9 1383.6,769.1 1385.9,738.6 1387.6,747.6 1388.7,737.5 1390.4,735.8 1392.1,751.0 1394.4,757.8 1396.0,761.2 1397.7,754.4 1399.4,762.3 1401.7,758.9 1403.4,752.1 1405.1,763.4 1406.8,762.3 1408.5,745.4 1409.6,761.2 1411.3,744.2 1413.0,736.3 1415.3,755.5 1417.5,769.1 1419.8,769.1 1422.0,763.4 1423.2,769.1 1424.9,751.0 1426.6,755.5 1427.7,766.8 1429.9,760.1 1432.2,752.1 1433.3,756.7 1435.0,733.5 1437.7,764.5 1441.1,738.7 1442.5,760.4 1443.8,757.7 1445.2,765.8 1447.2,732.6 1449.9,760.4 1452.6,757.7 1454.7,755.0 1456.7,765.8 1459.4,768.5 1462.1,745.5 1464.2,765.8 1467.6,744.1 1470.3,757.7 1473.0,765.8 1474.3,755.0 1476.4,729.2 1478.4,744.1 1481.1,761.8 1483.8,760.4 1485.9,692.6 1487.2,741.4 1489.3,748.2 1492.0,755.0 1494.7,757.7 1497.4,753.6 1499.4,755.0 1502.2,736.0 1504.2,748.2 1506.9,752.3 1508.9,742.8 1512.3,750.9 1514.4,764.5 1517.1,757.7 1519.8,760.4 1521.8,757.7 1524.5,741.4 1526.6,755.0 1528.6,746.8 1530.6,760.4 1532.7,741.4 1534.7,740.0 1536.7,763.1 1538.8,740.0 1540.8,746.8 1542.9,749.5 1546.2,745.5 1548.3,726.5 1550.3,726.5 1553.0,745.5 1555.1,752.3 1557.1,714.3 1558.5,714.3 1559.8,771.2 1562.4,741.2 1564.7,728.5 1567.1,719.0 1568.7,731.7 1571.1,719.0 1572.6,730.1 1575.0,714.3 1577.2,733.9 1579.5,735.0 1581.3,712.2 1585.3,706.8 1587.4,695.9 1589.4,704.1 1590.8,682.4 1591.4,667.5 1593.2,663.7 1595.6,655.8 1597.1,602.8 1598.7,552.0 1600.1,575.7 1601.9,568.9 1603.2,544.5 1604.6,570.3 1605.9,555.3 1608.0,554.7 1610.0,559.4 1611.4,568.9 1613.4,602.8 1615.4,632.6 1616.8,636.7 1618.8,654.3 1621.7,676.4 1623.2,679.5 1624.8,640.0 1625.6,622.5 1627.0,654.3 1628.8,695.3 1631.9,711.1 1634.6,668.5 1635.9,711.1 1637.5,725.4 1640.6,715.9 1643.0,722.2 1645.4,720.6 1647.7,703.2 1650.1,734.9 1652.5,704.8 1654.9,715.9 1657.2,749.1 1661.2,750.7 1664.3,739.6 1667.0,735.9 1669.7,735.9 1671.8,741.4 1673.1,733.2 1675.2,746.8 1677.2,730.5 1679.2,748.1 1680.6,719.7 1681.9,748.1 1684.0,749.5 1685.3,717.0 1686.7,741.4 1688.7,718.3 1690.8,717.0 1692.8,685.8 1694.2,696.6 1696.2,727.8 1698.9,733.2 1700.9,727.8 1703.0,712.9 1705.0,721.0 1707.0,717.0 1708.4,723.7 1710.0,702.0 1711.8,707.5 1713.1,738.6 1715.2,703.4 1716.5,735.9 1717.9,715.6 1719.2,748.1 1722.0,749.5 1726.0,748.1 1728.7,737.3 1731.4,735.9 1734.2,740.0 1736.9,737.3 1738.9,729.2 1740.9,750.8 1743.0,719.7 1745.0,748.1 1746.4,719.7 1748.4,718.3 1749.7,740.0 1751.8,717.0 1753.1,717.0 1754.9,686.4 1756.5,700.7 1758.6,727.8 1759.9,729.2 1761.3,733.2 1763.3,730.5" fill="none" stroke="#d8483a" stroke-width="1.9" stroke-linejoin="round"/>
<line x1="501.7" y1="33.2" x2="544.6" y2="33.2" stroke="#5c6c9b" stroke-width="2.0"/>
<line x1="501.7" y1="66.2" x2="544.6" y2="66.2" stroke="#b7675a" stroke-width="2.0"/>
<text x="554.9" y="44.6" font-family="'Liberation Serif', 'Noto Serif CJK SC', serif" font-size="31.5" fill="#000">原始</text>
<text x="554.9" y="77.6" font-family="'Liberation Serif', 'Noto Serif CJK SC', serif" font-size="31.5" fill="#000">预测</text>
<line x1="1330.1" y1="44.0" x2="1372.4" y2="44.0" stroke="#5a6ea0" stroke-width="2.0"/>
<line x1="1330.1" y1="77.0" x2="1372.4" y2="77.0" stroke="#d76e5a" stroke-width="2.0"/>
<text x="1383.1" y="55.0" font-family="'Liberation Serif', 'Noto Serif CJK SC', serif" font-size="31.5" fill="#000">原始</text>
<text x="1383.1" y="88.0" font-family="'Liberation Serif', 'Noto Serif CJK SC', serif" font-size="31.5" fill="#000">预测</text>
<line x1="381.0" y1="484.9" x2="424.0" y2="484.9" stroke="#4b64a0" stroke-width="2.0"/>
<line x1="381.0" y1="517.9" x2="424.0" y2="517.9" stroke="#c98580" stroke-width="2.0"/>
<text x="434.5" y="495.9" font-family="'Liberation Serif', 'Noto Serif CJK SC', serif" font-size="31.5" fill="#000">原始</text>
<text x="434.5" y="529.4" font-family="'Liberation Serif', 'Noto Serif CJK SC', serif" font-size="31.5" fill="#000">预测</text>
<line x1="1366.7" y1="486.9" x2="1408.9" y2="486.9" stroke="#5f73a5" stroke-width="2.0"/>
<line x1="1366.7" y1="519.7" x2="1408.9" y2="519.7" stroke="#c36e5f" stroke-width="2.0"/>
<text x="1419.1" y="497.7" font-family="'Liberation Serif', 'Noto Serif CJK SC', serif" font-size="31.5" fill="#000">原始</text>
<text x="1419.1" y="530.7" font-family="'Liberation Serif', 'Noto Serif CJK SC', serif" font-size="31.5" fill="#000">预测</text>
<text transform="translate(210.0,52.7) scale(1,1.06)" font-family="'Liberation Serif', serif" font-size="32" fill="#000">(a)</text>
<text transform="translate(1156.3,51.3) scale(1,1.06)" font-family="'Liberation Serif', serif" font-size="32" fill="#000">(b)</text>
<text transform="translate(200.9,493.8) scale(1,1.06)" font-family="'Liberation Serif', serif" font-size="32" fill="#000">(c)</text>
<text transform="translate(1150.5,494.5) scale(1,1.06)" font-family="'Liberation Serif', serif" font-size="32" fill="#000">(d)</text>
<text x="512.7" y="433.9" text-anchor="middle" font-family="'Liberation Serif', 'Noto Serif CJK SC', serif" font-size="31.5" fill="#000">测试集时间点序号</text>
<text x="1462.0" y="433.9" text-anchor="middle" font-family="'Liberation Serif', 'Noto Serif CJK SC', serif" font-size="31.5" fill="#000">测试集时间点序号</text>
<text x="507.7" y="874.6" text-anchor="middle" font-family="'Liberation Serif', 'Noto Serif CJK SC', serif" font-size="31.5" fill="#000">测试集时间点序号</text>
<text x="1455.0" y="874.6" text-anchor="middle" font-family="'Liberation Serif', 'Noto Serif CJK SC', serif" font-size="31.5" fill="#000">测试集时间点序号</text>
<text transform="translate(116.4,192.7) rotate(-90)" text-anchor="middle" font-family="'Liberation Serif', 'Noto Serif CJK SC', serif" font-size="31.5" fill="#000">pH</text>
<text transform="translate(1072.5,192.4) rotate(-90)" text-anchor="middle" font-family="'Liberation Serif', 'Noto Serif CJK SC', serif" font-size="31.5" fill="#000">电导率/(μS·cm<tspan font-size="20" dy="-12">−1</tspan><tspan dy="12">)</tspan></text>
<text transform="translate(130,632.6) rotate(-90)" text-anchor="middle" font-family="'Liberation Serif', 'Noto Serif CJK SC', serif" font-size="31.5" fill="#000">磷酸盐/(mg·L<tspan font-size="20" dy="-12">−1</tspan><tspan dy="12">)</tspan></text>
<text transform="translate(1077,632.6) rotate(-90)" text-anchor="middle" font-family="'Liberation Serif', 'Noto Serif CJK SC', serif" font-size="31.5" fill="#000">高浓度硅酸盐/(mg·L<tspan font-size="20" dy="-12">−1</tspan><tspan dy="12">)</tspan></text>
</svg>
</body></html>
